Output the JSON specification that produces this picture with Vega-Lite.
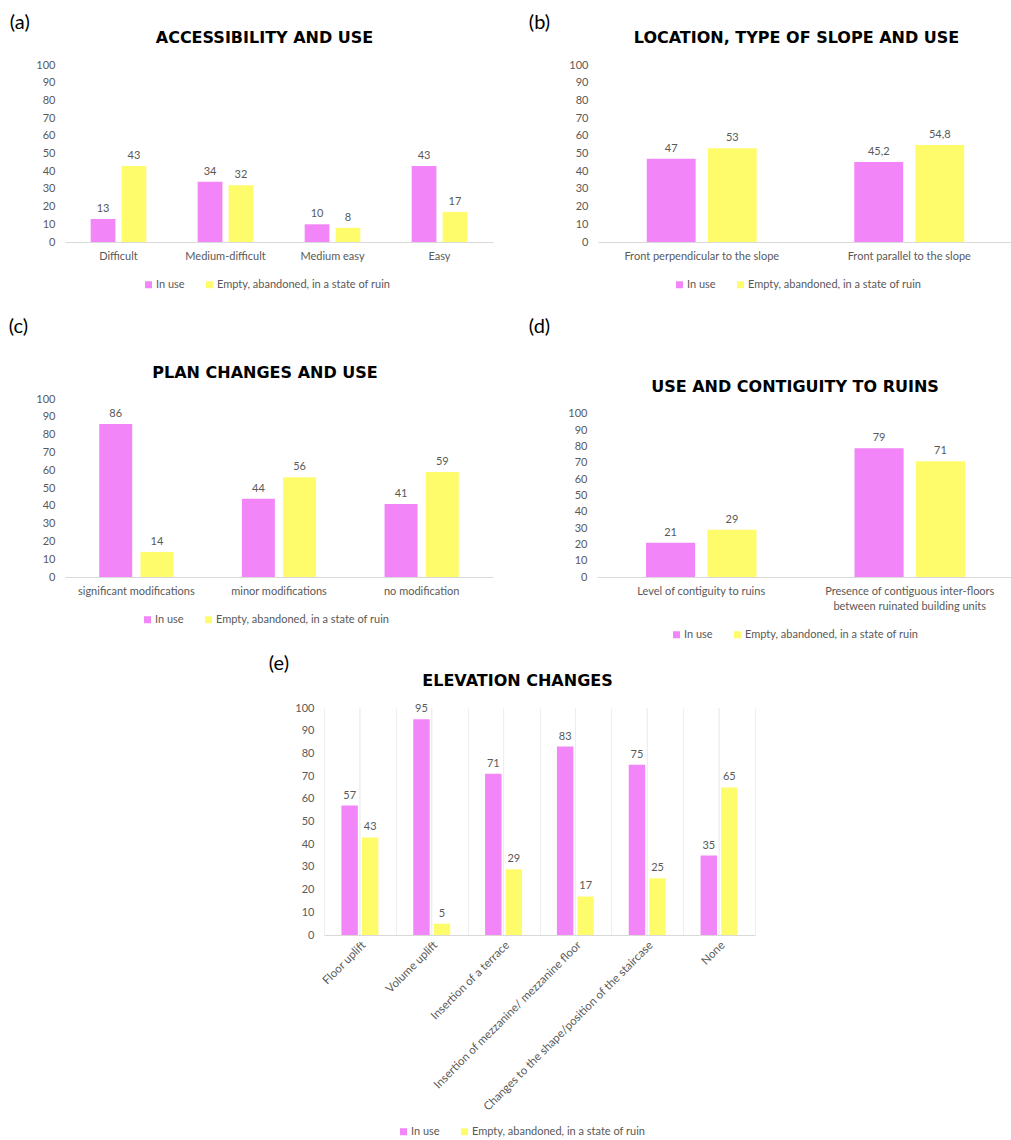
{
  "$schema": "https://vega.github.io/schema/vega-lite/v6.json",
  "padding": {"left": 8, "top": 13, "right": 0, "bottom": 0},
  "background": "white",
  "config": {
    "font": "Lato",
    "view": {"stroke": null},
    "axis": {"labelFont": "Lato", "labelColor": "#595959", "labelFontSize": 11, "ticks": false, "grid": false},
    "axisX": {"domainColor": "#D9D9D9", "labelAngle": 0, "labelPadding": 8},
    "axisY": {"domain": false, "labelPadding": 10, "titleAngle": 0, "titleAlign": "center", "titleBaseline": "middle", "titleFont": "DejaVu Sans", "titleFontSize": 16, "titleFontWeight": "bold", "titleColor": "#000000", "titleLimit": 600},
    "legend": {"orient": "none", "direction": "horizontal", "symbolType": "square", "symbolSize": 49, "symbolStrokeWidth": 0, "labelFontSize": 11, "labelColor": "#595959", "labelFont": "Lato", "labelLimit": 400, "columnPadding": 19, "labelOffset": 2},
    "title": {"font": "Lato", "fontSize": 20, "fontWeight": "normal", "color": "#000000", "anchor": "start", "frame": "bounds"},
    "locale": {"number": {"decimal": ",", "thousands": ".", "grouping": [3], "currency": ["", "€"]}}
  },
  "resolve": {"scale": {"color": "independent", "xOffset": "independent"}, "legend": {"color": "independent"}},
  "center": true,
  "spacing": 14,
  "vconcat": [
    {
      "spacing": 27,
      "resolve": {"scale": {"color": "independent", "xOffset": "independent"}, "legend": {"color": "independent"}},
      "vconcat": [
        {
          "spacing": 35,
          "resolve": {"scale": {"color": "independent", "xOffset": "independent"}, "legend": {"color": "independent"}},
          "hconcat": [
            {
              "width": 428, "height": 177,
              "title": {"text": "(a)", "dx": -26, "offset": -4},
              "data": {"values": [
                {"cat": "Difficult", "series": "In use", "value": 13},
                {"cat": "Difficult", "series": "Empty, abandoned, in a state of ruin", "value": 43},
                {"cat": "Medium-difficult", "series": "In use", "value": 34},
                {"cat": "Medium-difficult", "series": "Empty, abandoned, in a state of ruin", "value": 32},
                {"cat": "Medium easy", "series": "In use", "value": 10},
                {"cat": "Medium easy", "series": "Empty, abandoned, in a state of ruin", "value": 8},
                {"cat": "Easy", "series": "In use", "value": 43},
                {"cat": "Easy", "series": "Empty, abandoned, in a state of ruin", "value": 17}
              ]},
              "encoding": {
                "x": {"field": "cat", "type": "nominal", "sort": null, "title": null, "scale": {"paddingInner": 0.48, "paddingOuter": 0.24}},
                "y": {"field": "value", "type": "quantitative", "title": "ACCESSIBILITY AND USE", "scale": {"domain": [0, 100], "nice": false}, "axis": {"values": [0, 10, 20, 30, 40, 50, 60, 70, 80, 90, 100], "titleX": 199, "titleY": -28}},
                "xOffset": {"field": "series", "sort": null, "scale": {"paddingInner": 0.2}},
                "color": {"field": "series", "type": "nominal", "sort": null, "scale": {"domain": ["In use", "Empty, abandoned, in a state of ruin"], "range": ["#F286F8", "#FFFC6C"]}, "legend": {"title": null, "legendX": 78, "legendY": 214}}
              },
              "layer": [
                {"mark": "bar"},
                {"mark": {"type": "text", "baseline": "bottom", "dy": -5, "fontSize": 11}, "encoding": {"text": {"field": "value", "type": "quantitative", "format": "~g"}, "color": {"value": "#595959"}}}
              ]
            },
            {
              "width": 415, "height": 177,
              "title": {"text": "(b)", "dx": -40, "offset": -4},
              "data": {"values": [
                {"cat": "Front perpendicular to the slope", "series": "In use", "value": 47},
                {"cat": "Front perpendicular to the slope", "series": "Empty, abandoned, in a state of ruin", "value": 53},
                {"cat": "Front parallel to the slope", "series": "In use", "value": 45.2},
                {"cat": "Front parallel to the slope", "series": "Empty, abandoned, in a state of ruin", "value": 54.8}
              ]},
              "encoding": {
                "x": {"field": "cat", "type": "nominal", "sort": null, "title": null, "scale": {"paddingInner": 0.47, "paddingOuter": 0.235}},
                "y": {"field": "value", "type": "quantitative", "title": "LOCATION, TYPE OF SLOPE AND USE", "scale": {"domain": [0, 100], "nice": false}, "axis": {"values": [0, 10, 20, 30, 40, 50, 60, 70, 80, 90, 100], "titleX": 198, "titleY": -28}},
                "xOffset": {"field": "series", "sort": null, "scale": {"paddingInner": 0.2}},
                "color": {"field": "series", "type": "nominal", "sort": null, "scale": {"domain": ["In use", "Empty, abandoned, in a state of ruin"], "range": ["#F286F8", "#FFFC6C"]}, "legend": {"title": null, "legendX": 76, "legendY": 214}}
              },
              "layer": [
                {"mark": "bar"},
                {"mark": {"type": "text", "baseline": "bottom", "dy": -5, "fontSize": 11}, "encoding": {"text": {"field": "value", "type": "quantitative", "format": "~g"}, "color": {"value": "#595959"}}}
              ]
            }
          ]
        },
        {
          "spacing": 35,
          "resolve": {"scale": {"color": "independent", "xOffset": "independent"}, "legend": {"color": "independent"}},
          "hconcat": [
            {
              "width": 428, "height": 178,
              "title": {"text": "(c)", "dx": -27, "offset": 27},
              "data": {"values": [
                {"cat": "significant modifications", "series": "In use", "value": 86},
                {"cat": "significant modifications", "series": "Empty, abandoned, in a state of ruin", "value": 14},
                {"cat": "minor modifications", "series": "In use", "value": 44},
                {"cat": "minor modifications", "series": "Empty, abandoned, in a state of ruin", "value": 56},
                {"cat": "no modification", "series": "In use", "value": 41},
                {"cat": "no modification", "series": "Empty, abandoned, in a state of ruin", "value": 59}
              ]},
              "encoding": {
                "x": {"field": "cat", "type": "nominal", "sort": null, "title": null, "scale": {"paddingInner": 0.48, "paddingOuter": 0.24}},
                "y": {"field": "value", "type": "quantitative", "title": "PLAN CHANGES AND USE", "scale": {"domain": [0, 100], "nice": false}, "axis": {"values": [0, 10, 20, 30, 40, 50, 60, 70, 80, 90, 100], "titleX": 199.5, "titleY": -27}},
                "xOffset": {"field": "series", "sort": null, "scale": {"paddingInner": 0.2}},
                "color": {"field": "series", "type": "nominal", "sort": null, "scale": {"domain": ["In use", "Empty, abandoned, in a state of ruin"], "range": ["#F286F8", "#FFFC6C"]}, "legend": {"title": null, "legendX": 77, "legendY": 215}}
              },
              "layer": [
                {"mark": "bar"},
                {"mark": {"type": "text", "baseline": "bottom", "dy": -5, "fontSize": 11}, "encoding": {"text": {"field": "value", "type": "quantitative", "format": "~g"}, "color": {"value": "#595959"}}}
              ]
            },
            {
              "width": 417, "height": 178,
              "title": {"text": "(d)", "dx": -39, "offset": 41},
              "data": {"values": [
                {"cat": "Level of contiguity to ruins", "series": "In use", "value": 21},
                {"cat": "Level of contiguity to ruins", "series": "Empty, abandoned, in a state of ruin", "value": 29},
                {"cat": "Presence of contiguous inter-floors between ruinated building units", "series": "In use", "value": 79},
                {"cat": "Presence of contiguous inter-floors between ruinated building units", "series": "Empty, abandoned, in a state of ruin", "value": 71}
              ]},
              "encoding": {
                "x": {"field": "cat", "type": "nominal", "sort": null, "title": null, "scale": {"paddingInner": 0.47, "paddingOuter": 0.235}, "axis": {"labelLineHeight": 15, "labelLimit": 300, "labelExpr": "datum.value == 'Presence of contiguous inter-floors between ruinated building units' ? ['Presence of contiguous inter-floors', 'between ruinated building units'] : datum.value"}},
                "y": {"field": "value", "type": "quantitative", "title": "USE AND CONTIGUITY TO RUINS", "scale": {"domain": [0, 109.2], "nice": false}, "axis": {"values": [0, 10, 20, 30, 40, 50, 60, 70, 80, 90, 100], "titleX": 197.5, "titleY": -13}},
                "xOffset": {"field": "series", "sort": null, "scale": {"paddingInner": 0.2}},
                "color": {"field": "series", "type": "nominal", "sort": null, "scale": {"domain": ["In use", "Empty, abandoned, in a state of ruin"], "range": ["#F286F8", "#FFFC6C"]}, "legend": {"title": null, "legendX": 74, "legendY": 230}}
              },
              "layer": [
                {"mark": "bar"},
                {"mark": {"type": "text", "baseline": "bottom", "dy": -5, "fontSize": 11}, "encoding": {"text": {"field": "value", "type": "quantitative", "format": "~g"}, "color": {"value": "#595959"}}}
              ]
            }
          ]
        }
      ]
    },
    {
      "width": 431, "height": 227,
      "title": {"text": "(e)", "dx": -26, "offset": -2},
      "data": {"values": [
        {"cat": "Floor uplift", "series": "In use", "value": 57},
        {"cat": "Floor uplift", "series": "Empty, abandoned, in a state of ruin", "value": 43},
        {"cat": "Volume uplift", "series": "In use", "value": 95},
        {"cat": "Volume uplift", "series": "Empty, abandoned, in a state of ruin", "value": 5},
        {"cat": "Insertion of a terrace", "series": "In use", "value": 71},
        {"cat": "Insertion of a terrace", "series": "Empty, abandoned, in a state of ruin", "value": 29},
        {"cat": "Insertion of mezzanine/ mezzanine floor", "series": "In use", "value": 83},
        {"cat": "Insertion of mezzanine/ mezzanine floor", "series": "Empty, abandoned, in a state of ruin", "value": 17},
        {"cat": "Changes to the shape/position of the staircase", "series": "In use", "value": 75},
        {"cat": "Changes to the shape/position of the staircase", "series": "Empty, abandoned, in a state of ruin", "value": 25},
        {"cat": "None", "series": "In use", "value": 35},
        {"cat": "None", "series": "Empty, abandoned, in a state of ruin", "value": 65}
      ]},
      "encoding": {
        "y": {"field": "value", "type": "quantitative", "title": "ELEVATION CHANGES", "scale": {"domain": [0, 100], "nice": false}, "axis": {"values": [0, 10, 20, 30, 40, 50, 60, 70, 80, 90, 100], "titleX": 193, "titleY": -28}}
      },
      "resolve": {"scale": {"x": "independent"}, "axis": {"x": "independent"}},
      "layer": [
        {
          "mark": {"type": "rule", "strokeWidth": 1},
          "encoding": {
            "x": {"field": "cat", "type": "nominal", "sort": null, "title": null, "scale": {"paddingInner": 0, "paddingOuter": 0}, "axis": {"orient": "top", "grid": true, "tickBand": "extent", "gridColor": "#EEEEEE", "labels": false, "domain": false, "ticks": false}},
            "y": {"datum": 0}, "y2": {"datum": 100},
            "color": {"value": "#EEEEEE"}
          }
        },
        {
          "encoding": {
            "x": {"field": "cat", "type": "nominal", "sort": null, "title": null, "scale": {"paddingInner": 0.485, "paddingOuter": 0.2425}, "axis": {"orient": "bottom", "labelAngle": -45, "labelLimit": 400, "labelFontSize": 11.5, "labelPadding": 4}},
            "xOffset": {"field": "series", "sort": null, "scale": {"paddingInner": 0.2}},
            "color": {"field": "series", "type": "nominal", "sort": null, "scale": {"domain": ["In use", "Empty, abandoned, in a state of ruin"], "range": ["#F286F8", "#FFFC6C"]}, "legend": {"title": null, "legendX": 74, "legendY": 418}}
          },
          "layer": [
            {"mark": "bar"},
            {"mark": {"type": "text", "baseline": "bottom", "dy": -5, "fontSize": 11}, "encoding": {"text": {"field": "value", "type": "quantitative", "format": "~g"}, "color": {"value": "#595959"}}}
          ]
        }
      ]
    }
  ]
}
